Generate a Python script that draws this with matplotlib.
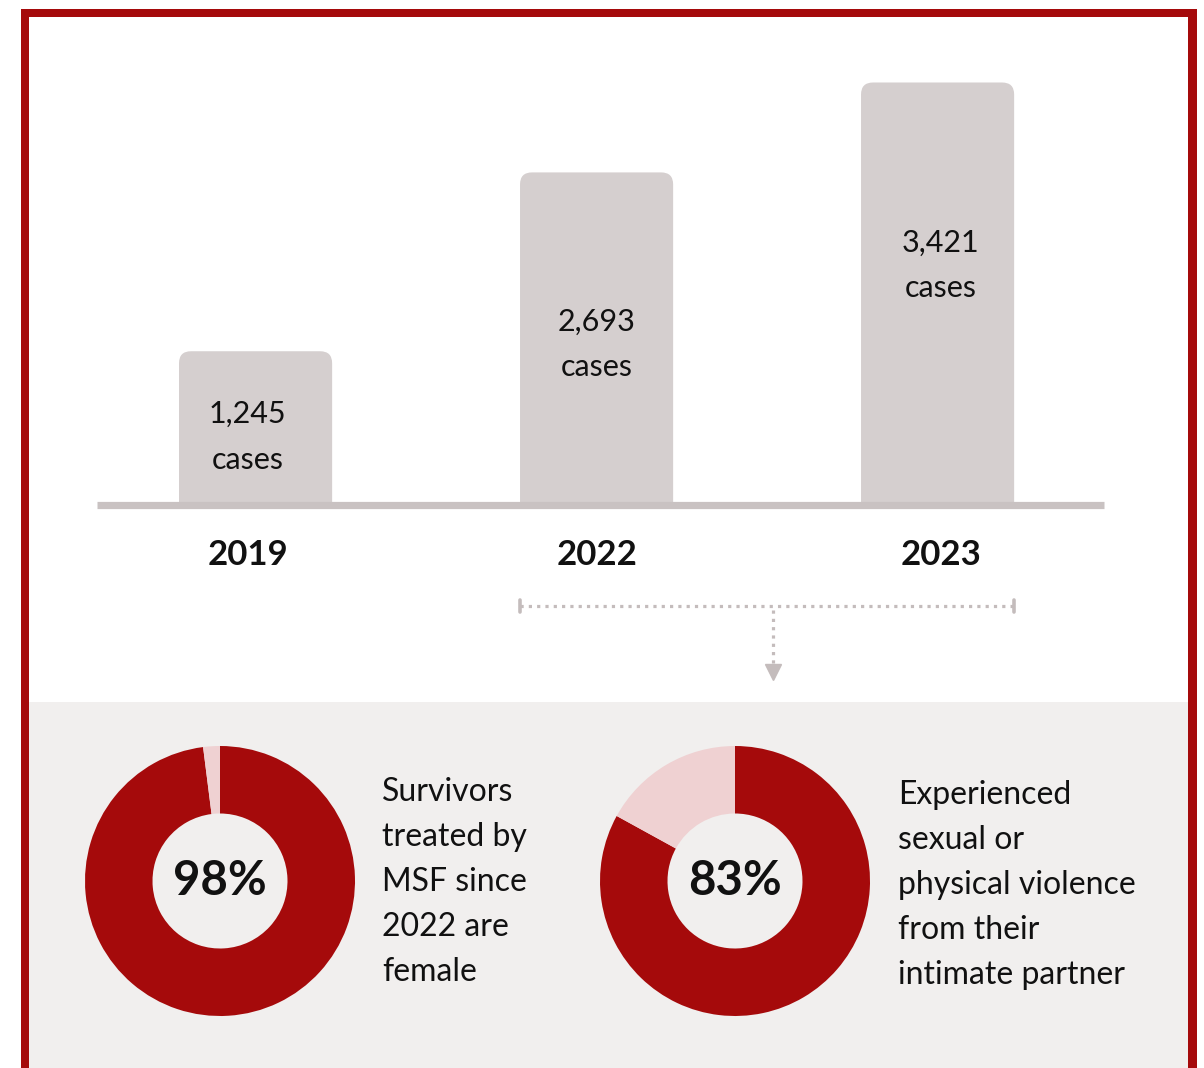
import matplotlib
matplotlib.use("Agg")
import matplotlib.pyplot as plt
from matplotlib.patches import FancyBboxPatch, Rectangle

# ---------------------------------------------------------------------------
# Data
# ---------------------------------------------------------------------------
years = ["2019", "2022", "2023"]
cases = [1245, 2693, 3421]
case_labels = ["1,245", "2,693", "3,421"]

donut_values = [98, 83]
donut_labels = ["98%", "83%"]
donut_captions = [
    ["Survivors", "treated by", "MSF since", "2022 are", "female"],
    ["Experienced", "sexual or", "physical violence", "from their",
     "intimate partner"],
]

# ---------------------------------------------------------------------------
# Style
# ---------------------------------------------------------------------------
RED = "#a50a0b"
PINK = "#efd1d2"
BAR = "#d5cfcf"
BASE = "#c9c2c2"
PANEL = "#f1efee"
DOT = "#c4bcbc"
INK = "#111111"

W, H = 1204, 1068
plt.rcParams["font.family"] = ["Lato", "DejaVu Sans"]

fig = plt.figure(figsize=(W / 100, H / 100), dpi=100)
fig.patch.set_facecolor("white")


def px_box(x0, y0, x1, y1):
    """pixel box (top-left origin) -> figure fraction rect"""
    return [x0 / W, 1 - y1 / H, (x1 - x0) / W, (y1 - y0) / H]


# background: frame + grey panel (pixel coords)
bg = fig.add_axes([0, 0, 1, 1])
bg.set_xlim(0, W)
bg.set_ylim(H, 0)
bg.axis("off")
bg.add_patch(Rectangle((29, 702), 1159, 400, color=PANEL, lw=0))
bg.add_patch(Rectangle((21, 9), 1176, 8, color=RED, lw=0))
bg.add_patch(Rectangle((21, 9), 8, 1100, color=RED, lw=0))
bg.add_patch(Rectangle((1188, 9), 9, 1100, color=RED, lw=0))

# ---------------------------------------------------------------------------
# Bar chart
# ---------------------------------------------------------------------------
px_per_unit = 341.0          # x: one category step
cases_per_px = 8.097         # y scale
bar_w = 0.449
label_frac = [0.533, 0.525, 0.60]   # where the value label sits in the bar
label_dx = [-8, 0, 3]               # small horizontal nudges (px)

ax = fig.add_axes(px_box(97, 60, 1104, 505))
ax.set_xlim(-0.465, 2.488)
ax.set_ylim(0, 445 * cases_per_px)
ax.axis("off")

aspect = cases_per_px * px_per_unit
r = 12 / px_per_unit
for i, v in enumerate(cases):
    ax.add_patch(FancyBboxPatch((i - bar_w / 2, -600), bar_w, v + 600,
                                boxstyle=f"round,pad=0,rounding_size={r}",
                                mutation_aspect=aspect, fc=BAR, ec="none"))
    for k, line in enumerate([case_labels[i], "cases"]):
        ax.annotate(line, (i, v * label_frac[i]),
                    xytext=(label_dx[i], -46 * k), textcoords="offset pixels",
                    ha="center", va="baseline", fontsize=22, color=INK)
    ax.annotate(years[i], (i, 0), xytext=(label_dx[i], -50),
                textcoords="offset pixels", ha="center", va="center",
                fontsize=25, fontweight="bold", color=INK,
                annotation_clip=False)

ax.axhline(0, color=BASE, lw=5.2, clip_on=False, solid_capstyle="butt")

# dotted bracket under 2022-2023
xl = ax.transData.transform((1 - bar_w / 2, 0))[0]
xr = ax.transData.transform((2 + bar_w / 2, 0))[0]
xm = (xl + xr) / 2 + 6
bg.plot([xl, xr], [606, 606], color=DOT, lw=2.3, ls=(0, (1, 1.6)),
        dash_capstyle="butt")
for x in (xl, xr):
    bg.plot([x, x], [600, 612], color=DOT, lw=2.6, solid_capstyle="round")
bg.plot([xm, xm], [610, 666], color=DOT, lw=2.3, ls=(0, (1, 1.6)),
        dash_capstyle="butt")
bg.plot([xm], [672], marker="v", ms=11, color=DOT, mec=DOT)

# ---------------------------------------------------------------------------
# Donuts
# ---------------------------------------------------------------------------
centers = [(220, 881), (735, 881)]
caption_pos = [(382, 801), (898, 804)]
R = 135
for (cx, cy), val, lab, cap, (tx, ty) in zip(centers, donut_values, donut_labels,
                                             donut_captions, caption_pos):
    dax = fig.add_axes(px_box(cx - R, cy - R, cx + R, cy + R))
    dax.pie([val, 100 - val], colors=[RED, PINK], startangle=90,
            counterclock=False, radius=1,
            wedgeprops=dict(width=0.5, linewidth=0))
    dax.set_xlim(-1, 1)
    dax.set_ylim(-1, 1)
    dax.text(0, 0, lab, ha="center", va="center", fontsize=34,
             fontweight="bold", color=INK)
    for k, line in enumerate(cap):
        bg.text(tx, ty + 45 * k, line, ha="left", va="baseline",
                fontsize=23, color=INK)

fig.savefig("out.png", dpi=100)
